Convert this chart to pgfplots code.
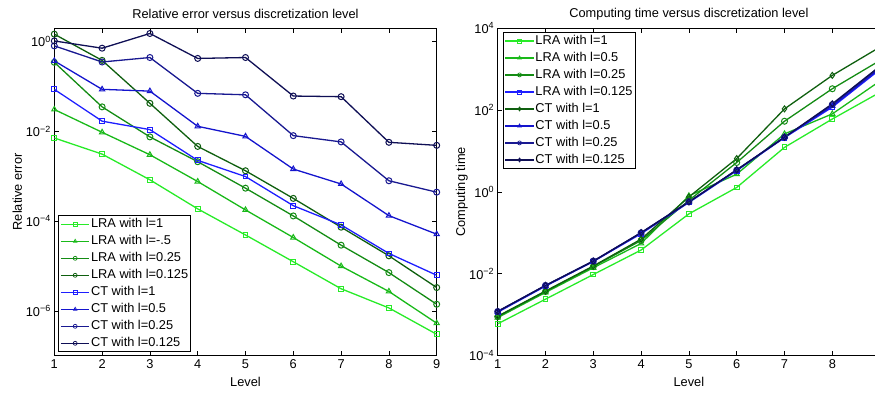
\documentclass[border=0pt]{standalone}
\usepackage{fontspec}
\setmainfont{Liberation Sans}
\usepackage{pgfplots}
\pgfplotsset{compat=1.18}
\definecolor{g1}{RGB}{40,235,40}
\definecolor{g2}{RGB}{25,185,25}
\definecolor{g3}{RGB}{20,140,20}
\definecolor{g4}{RGB}{15,95,15}
\definecolor{b1}{RGB}{30,30,255}
\definecolor{b2}{RGB}{20,20,205}
\definecolor{b3}{RGB}{25,25,145}
\definecolor{b4}{RGB}{15,15,85}
\pgfplotsset{
  matlabstyle/.style={
    scale only axis, width=382.4pt, height=327.7pt,
    xmin=1, xmax=9,
    xtick={1,2,3,4,5,6,7,8,9},
    tick align=inside, tick pos=both,
    major tick length=4.5pt, minor tick length=0pt,
    every tick/.style={black, line width=0.6pt},
    axis line style={line width=1pt},
    tick label style={font=\fontsize{12.8}{15}\selectfont},
    label style={font=\fontsize{12.8}{15}\selectfont},
    title style={font=\fontsize{12.8}{15}\selectfont, at={(axis description cs:0.5,1.025)}, anchor=center, yshift=0pt},
    xlabel style={at={(axis description cs:0.5,-0.079)}, anchor=center},
    every axis plot/.append style={line width=1.3pt, mark size=3pt, mark options={solid, line width=1pt}},
    legend cell align=left,
    legend image code/.code={\draw[mark repeat=2,mark phase=2, mark size=2pt, mark options={line width=0.7pt}] plot coordinates {(0cm,0cm) (0.5cm,0cm) (1cm,0cm)};},
    legend style={font=\fontsize{12.8}{15}\selectfont, draw=black, line width=1pt, inner sep=1.5pt, row sep=3pt,
      nodes={inner sep=1pt, text height=9.3pt, text depth=2.7pt}},
  }
}
\begin{document}
\begin{tikzpicture}[x=1pt,y=1pt]
\begin{axis}[matlabstyle, ymode=log, at={(54.3pt,36.3pt)}, anchor=south west,
  ymin=1e-7, ymax=2,
  xticklabels={1,2,3,4,5,6,7,8,9},
  ytick={1e-6,1e-4,1e-2,1},
  yticklabels={10\textsuperscript{−6},10\textsuperscript{−4},10\textsuperscript{−2},10\textsuperscript{0}},
  title={Relative error versus discretization level},
  xlabel={Level}, ylabel={Relative error},
  ylabel style={at={(axis description cs:-0.097,0.5)}, anchor=center},
  legend style={at={(0.0105,0.0104)}, anchor=south west},
]
\addplot[g1, mark=square, mark size=2.4pt] coordinates {(1,7.1e-3) (2,3.1e-3) (3,8.3e-4) (4,1.87e-4) (5,4.9e-5) (6,1.24e-5) (7,3.1e-6) (8,1.16e-6) (9,3.0e-7)};
\addlegendentry{LRA with l=1}
\addplot[g2, mark=triangle] coordinates {(1,0.0306) (2,9.5e-3) (3,3.0e-3) (4,7.6e-4) (5,1.77e-4) (6,4.3e-5) (7,9.9e-6) (8,2.7e-6) (9,5.3e-7)};
\addlegendentry{LRA with l=-.5}
\addplot[g3, mark=o] coordinates {(1,0.344) (2,0.035) (3,7.5e-3) (4,2.1e-3) (5,5.4e-4) (6,1.3e-4) (7,2.9e-5) (8,7.1e-6) (9,1.4e-6)};
\addlegendentry{LRA with l=0.25}
\addplot[g4, mark=o] coordinates {(1,1.46) (2,0.38) (3,0.042) (4,4.6e-3) (5,1.32e-3) (6,3.2e-4) (7,7.3e-5) (8,1.68e-5) (9,3.3e-6)};
\addlegendentry{LRA with l=0.125}
\addplot[b1, mark=square, mark size=2.4pt] coordinates {(1,0.086) (2,0.0168) (3,0.0109) (4,2.25e-3) (5,9.8e-4) (6,2.2e-4) (7,8.2e-5) (8,1.9e-5) (9,6.2e-6)};
\addlegendentry{CT with l=1}
\addplot[b2, mark=triangle] coordinates {(1,0.37) (2,0.086) (3,0.0785) (4,0.0129) (5,7.7e-3) (6,1.44e-3) (7,6.7e-4) (8,1.32e-4) (9,5.1e-5)};
\addlegendentry{CT with l=0.5}
\addplot[b3, mark=o] coordinates {(1,0.80) (2,0.35) (3,0.44) (4,0.070) (5,0.065) (6,8.0e-3) (7,5.8e-3) (8,7.9e-4) (9,4.4e-4)};
\addlegendentry{CT with l=0.25}
\addplot[b4, mark=o] coordinates {(1,1.03) (2,0.71) (3,1.51) (4,0.42) (5,0.44) (6,0.061) (7,0.059) (8,5.68e-3) (9,4.86e-3)};
\addlegendentry{CT with l=0.125}
\end{axis}
\begin{axis}[matlabstyle, ymode=log, at={(497.7pt,36.3pt)}, anchor=south west,
  ymin=1e-4, ymax=1e4,
  xticklabels={1,2,3,4,5,6,7,8,{}},
  ytick={1e-4,1e-2,1,1e2,1e4},
  yticklabels={10\textsuperscript{−4},10\textsuperscript{−2},10\textsuperscript{0},10\textsuperscript{2},10\textsuperscript{4}},
  title={Computing time versus discretization level},
  xlabel={Level}, ylabel={Computing time},
  ylabel style={at={(axis description cs:-0.094,0.5)}, anchor=center},
  legend style={at={(0.013,0.988)}, anchor=north west},
]
\addplot[g1, mark=square, mark size=2.4pt] coordinates {(1,6.0e-4) (2,2.4e-3) (3,9.6e-3) (4,0.038) (5,0.29) (6,1.28) (7,12.2) (8,60) (9,270)};
\addlegendentry{LRA with l=1}
\addplot[g2, mark=triangle] coordinates {(1,8.5e-4) (2,3.5e-3) (3,0.014) (4,0.055) (5,0.80) (6,2.7) (7,26) (8,80) (9,510)};
\addlegendentry{LRA with l=0.5}
\addplot[g3, mark=o] coordinates {(1,9.0e-4) (2,3.7e-3) (3,0.015) (4,0.065) (5,0.62) (6,5.2) (7,53) (8,329) (9,1620)};
\addlegendentry{LRA with l=0.25}
\addplot[b1, mark=square, mark size=2.4pt] coordinates {(1,1.15e-3) (2,5.0e-3) (3,0.020) (4,0.095) (5,0.55) (6,3.3) (7,21) (8,117) (9,980)};
\addlegendentry{LRA with l=0.125}
\addplot[g4, mark=diamond] coordinates {(1,9.2e-4) (2,3.8e-3) (3,0.0155) (4,0.07) (5,0.75) (6,6.5) (7,106) (8,697) (9,3440)};
\addlegendentry{CT with l=1}
\addplot[b2, mark=triangle] coordinates {(1,1.2e-3) (2,5.1e-3) (3,0.020) (4,0.10) (5,0.57) (6,3.4) (7,22) (8,125) (9,1050)};
\addlegendentry{CT with l=0.5}
\addplot[b3, mark=o] coordinates {(1,1.2e-3) (2,5.2e-3) (3,0.0205) (4,0.10) (5,0.57) (6,3.4) (7,21.5) (8,135) (9,1120)};
\addlegendentry{CT with l=0.25}
\addplot[b4, mark=diamond] coordinates {(1,1.21e-3) (2,5.2e-3) (3,0.0204) (4,0.101) (5,0.57) (6,3.46) (7,21.5) (8,141) (9,1180)};
\addlegendentry{CT with l=0.125}
\end{axis}
\pgfresetboundingbox
\path[use as bounding box] (0,0) rectangle (875,392);
\end{tikzpicture}
\end{document}
